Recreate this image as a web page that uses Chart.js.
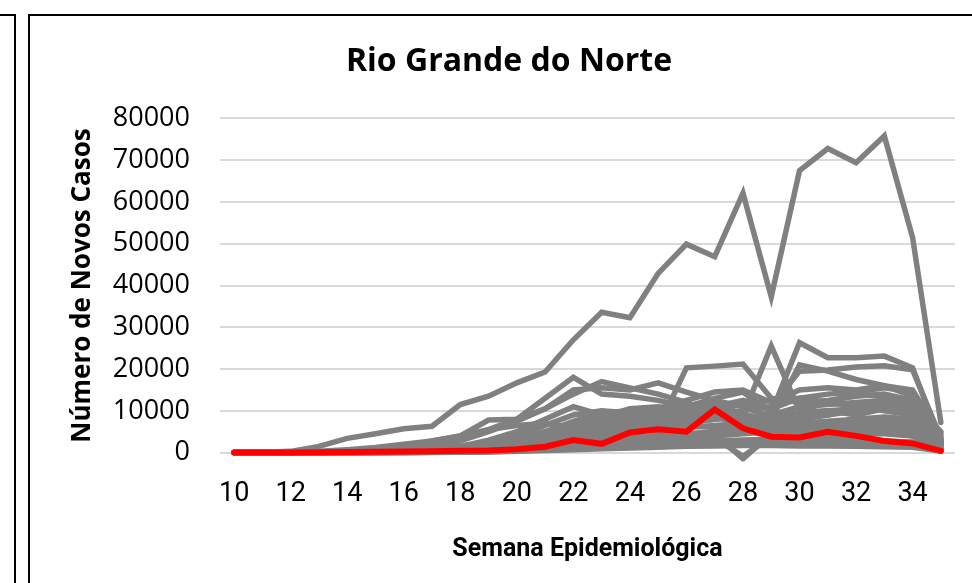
<!DOCTYPE html>
<html>
<head>
<meta charset="utf-8">
<script src="https://cdn.jsdelivr.net/npm/chart.js@4"></script>
<style>
  html, body { margin: 0; padding: 0; background: #fff; overflow: hidden; }
  #wrap { position: relative; width: 972px; height: 583px; }
  #grafico { position: absolute; left: 0; top: 0; }
  .painel { position: absolute; border: 2px solid #000; box-sizing: border-box; }
</style>
</head>
<body>
<div id="wrap">
  <canvas id="grafico" width="972" height="583"></canvas>
  <div class="painel" style="left:-6px; top:14px; width:22px; height:620px;"></div>
  <div class="painel" style="left:28px; top:14px; width:1000px; height:620px;"></div>
</div>
<script>
// semanas epidemiológicas 10 a 35
const semanas = [10, 11, 12, 13, 14, 15, 16, 17, 18, 19, 20, 21, 22, 23, 24, 25, 26, 27, 28, 29, 30, 31, 32, 33, 34, 35];
const ticksY = [0, 10000, 20000, 30000, 40000, 50000, 60000, 70000, 80000];

// Rio Grande do Norte (destaque)
const rn = [0, 0, 50, 100, 150, 200, 250, 300, 450, 500, 800, 1400, 3000, 2100, 4800, 5600, 5000, 10300, 5800, 3800, 3600, 5000, 4000, 2800, 2200, 400];

// demais estados (cinza)
const e01 = [0, 100, 300, 1500, 3400, 4500, 5700, 6300, 11500, 13500, 16700, 19300, 27000, 33600, 32300, 42900, 49900, 46900, 62100, 37300, 67500, 72800, 69400, 75800, 51500, 7200];
const e02 = [0, 0, 50, 150, 400, 800, 1300, 2000, 3500, 5500, 8000, 13000, 18000, 14000, 13500, 12500, 11000, 9500, 9000, 8000, 7500, 6500, 6000, 5000, 4500, 1500];
const e03 = [0, 0, 0, 50, 150, 400, 900, 1500, 2800, 5000, 7500, 10500, 14000, 17000, 15500, 14000, 12000, 9500, 8500, 7000, 6500, 6000, 5500, 5000, 4000, 1000];
const e04 = [0, 0, 100, 300, 700, 1200, 2000, 2800, 4000, 7800, 8000, 10500, 15000, 15500, 15000, 16700, 14500, 12500, 11000, 8500, 9500, 10000, 9000, 10500, 9000, 2500];
const e05 = [0, 0, 20, 60, 150, 300, 500, 800, 1300, 2000, 3000, 4500, 6000, 7500, 7000, 6000, 20300, 20700, 21200, 13000, 12000, 12500, 13500, 14000, 12500, 2500];
const e06 = [0, 0, 0, 30, 80, 150, 300, 500, 800, 1300, 2000, 3000, 4500, 6000, 7500, 9000, 11000, 13000, 14500, 9500, 26300, 22700, 22700, 23100, 20300, 2500];
const e07 = [0, 0, 0, 20, 60, 120, 250, 500, 900, 1500, 2500, 3500, 5000, 6500, 8000, 9500, 11000, 12000, 9000, 25500, 10000, 12000, 14000, 13500, 12000, 3000];
const e08 = [0, 0, 0, 20, 50, 100, 200, 400, 700, 1200, 2000, 3000, 4000, 5500, 6500, 8000, 9000, 10500, 12000, 8000, 21000, 19500, 17500, 16000, 13500, 2000];
const e09 = [0, 0, 0, 10, 40, 100, 200, 350, 600, 1000, 1500, 2500, 3500, 5000, 6000, 7500, 8500, 9500, 10000, 11000, 19500, 19800, 20500, 20800, 19800, 3500];
const e10 = [0, 0, 0, 50, 100, 250, 500, 900, 1500, 2500, 4000, 6500, 9000, 10000, 9500, 10500, 12500, 14500, 15000, 12000, 15000, 15500, 15000, 16000, 15000, 4000];
const e11 = [0, 0, 0, 30, 80, 200, 400, 700, 1200, 2000, 3500, 5000, 7500, 9500, 10000, 9500, 9000, 8500, 7000, 6000, 8000, 9000, 11000, 12500, 11000, 3000];
const e12 = [0, 0, 0, 20, 60, 150, 300, 600, 1000, 1800, 3000, 4500, 6500, 8000, 9000, 10000, 10500, 11000, 12500, 10500, 13000, 14000, 14500, 15500, 14500, 4500];
const e13 = [0, 0, 0, 10, 30, 80, 200, 400, 700, 1200, 2200, 3500, 5000, 6500, 7500, 8500, 9500, 10500, 11500, 12500, 13000, 12000, 11000, 10000, 9000, 2000];
const e14 = [0, 0, 0, 10, 30, 60, 150, 300, 600, 1000, 1800, 3000, 4500, 5500, 6500, 7000, 7500, 8000, 8500, 9000, 11000, 11500, 12000, 12500, 12000, 5000];
const e15 = [0, 0, 0, 10, 20, 50, 100, 200, 400, 700, 1200, 2000, 3000, 4000, 5000, 6000, 7000, 8000, 9000, 8000, 9500, 10000, 10500, 11000, 10000, 3000];
const e16 = [0, 0, 0, 10, 30, 70, 150, 300, 500, 900, 1500, 2500, 3500, 4500, 5000, 5500, 6000, 6500, 7000, 6000, 7000, 7500, 8000, 8500, 8000, 2000];
const e17 = [0, 0, 0, 10, 20, 50, 100, 200, 300, 500, 900, 1500, 2200, 3000, 3500, 4000, 4500, 5000, 5500, 5000, 6000, 6500, 7000, 7500, 7000, 2000];
const e18 = [0, 0, 0, 0, 10, 30, 80, 150, 250, 450, 800, 1300, 2000, 2500, 3000, 3500, 4000, 4500, -1500, 4500, 5000, 5200, 5500, 5800, 5500, 1500];
const e19 = [0, 0, 0, 0, 10, 20, 50, 100, 200, 350, 600, 1000, 1500, 2000, 2500, 3000, 3500, 3500, -900, 3800, 4000, 4200, 4500, 4500, 4000, 1000];
const e20 = [0, 0, 0, 0, 10, 20, 40, 80, 150, 300, 500, 800, 1200, 1500, 2000, 2200, 2500, 2800, 3000, 3200, 3000, 3200, 3000, 2800, 2500, 800];
const e21 = [0, 0, 0, 0, 5, 15, 30, 60, 120, 200, 400, 600, 900, 1200, 1400, 1600, 1800, 2000, 2200, 2300, 2400, 2300, 2200, 2100, 2000, 600];
const e22 = [0, 0, 0, 0, 5, 10, 20, 40, 80, 150, 300, 500, 700, 900, 1100, 1300, 1500, 1600, 1700, 1700, 1600, 1600, 1500, 1400, 1300, 400];
const e23 = [0, 0, 0, 10, 30, 80, 150, 300, 500, 900, 1500, 2500, 3500, 4500, 5500, 5000, 4500, 4000, 4500, 5000, 6000, 5500, 5000, 4800, 4500, 1500];
const e24 = [0, 0, 10, 50, 200, 600, 1500, 2800, 4000, 5500, 6500, 7000, 6000, 5000, 4000, 3500, 3000, 2800, 2500, 2500, 3000, 3500, 3000, 2800, 2500, 700];
const e25 = [0, 0, 0, 20, 80, 200, 400, 800, 1500, 3000, 5000, 8000, 11000, 9000, 8000, 7000, 6500, 6000, 5500, 5000, 5500, 6000, 6500, 7000, 6500, 2000];
const e26 = [0, 0, 0, 10, 50, 150, 300, 600, 1000, 1800, 3000, 5000, 7000, 8500, 10500, 11000, 10000, 9000, 8000, 7000, 8500, 9000, 10000, 11500, 10500, 3500];

const outrosEstados = [e01, e02, e03, e04, e05, e06, e07, e08, e09, e10, e11, e12, e13,
  e14, e15, e16, e17, e18, e19, e20, e21, e22, e23, e24, e25, e26];

const datasets = [{
  label: "Rio Grande do Norte",
  data: rn,
  borderColor: "#ff0000",
  borderWidth: 6
}];
outrosEstados.forEach((serie, i) => {
  datasets.push({
    label: "Estado " + (i + 1),
    data: serie,
    borderColor: "#808080",
    borderWidth: 5.5
  });
});

new Chart(document.getElementById("grafico").getContext("2d"), {
  type: "line",
  data: { labels: semanas, datasets: datasets },
  options: {
    responsive: false,
    animation: false,
    layout: { padding: { left: 63, right: 17, top: 17, bottom: 14 } },
    elements: {
      point: { radius: 0, hoverRadius: 0 },
      line: { tension: 0, borderCapStyle: "round", borderJoinStyle: "miter", fill: false }
    },
    datasets: { line: { clip: 9 } },
    plugins: {
      legend: { display: false },
      tooltip: { enabled: false },
      title: {
        display: true,
        text: "Rio Grande do Norte",
        color: "#000",
        font: { family: "'Open Sans', sans-serif", size: 32, weight: "bold" },
        padding: { top: 26, bottom: 37 }
      }
    },
    scales: {
      x: {
        offset: true,
        grid: { display: false, drawTicks: false },
        border: { display: false },
        ticks: {
          autoSkip: false,
          maxRotation: 0,
          padding: 25,
          color: "#000",
          font: { family: "'Roboto', sans-serif", size: 27 },
          callback: function (v, i) {
            const s = semanas[i];
            return s % 2 === 0 ? String(s) : "";
          }
        },
        title: {
          display: true,
          text: "Semana Epidemiológica",
          color: "#000",
          font: { family: "'Roboto', sans-serif", size: 25, weight: "bold" },
          padding: { top: 0, bottom: 4 }
        }
      },
      y: {
        min: 0,
        max: 80000,
        afterFit: (s) => { s.width = 157; },
        afterBuildTicks: (s) => { s.ticks = ticksY.map(v => ({ value: v })); },
        grid: { color: "#d9d9d9", lineWidth: 2, drawTicks: false },
        border: { display: false },
        ticks: {
          padding: 30,
          color: "#000",
          font: { family: "'Open Sans', sans-serif", size: 27 },
          callback: (v) => String(v)
        },
        title: {
          display: true,
          text: "Número de Novos Casos",
          color: "#000",
          font: { family: "'Open Sans', sans-serif", size: 26, weight: "bold" },
          padding: { top: 4, bottom: 4 }
        }
      }
    }
  }
});
</script>
</body>
</html>
